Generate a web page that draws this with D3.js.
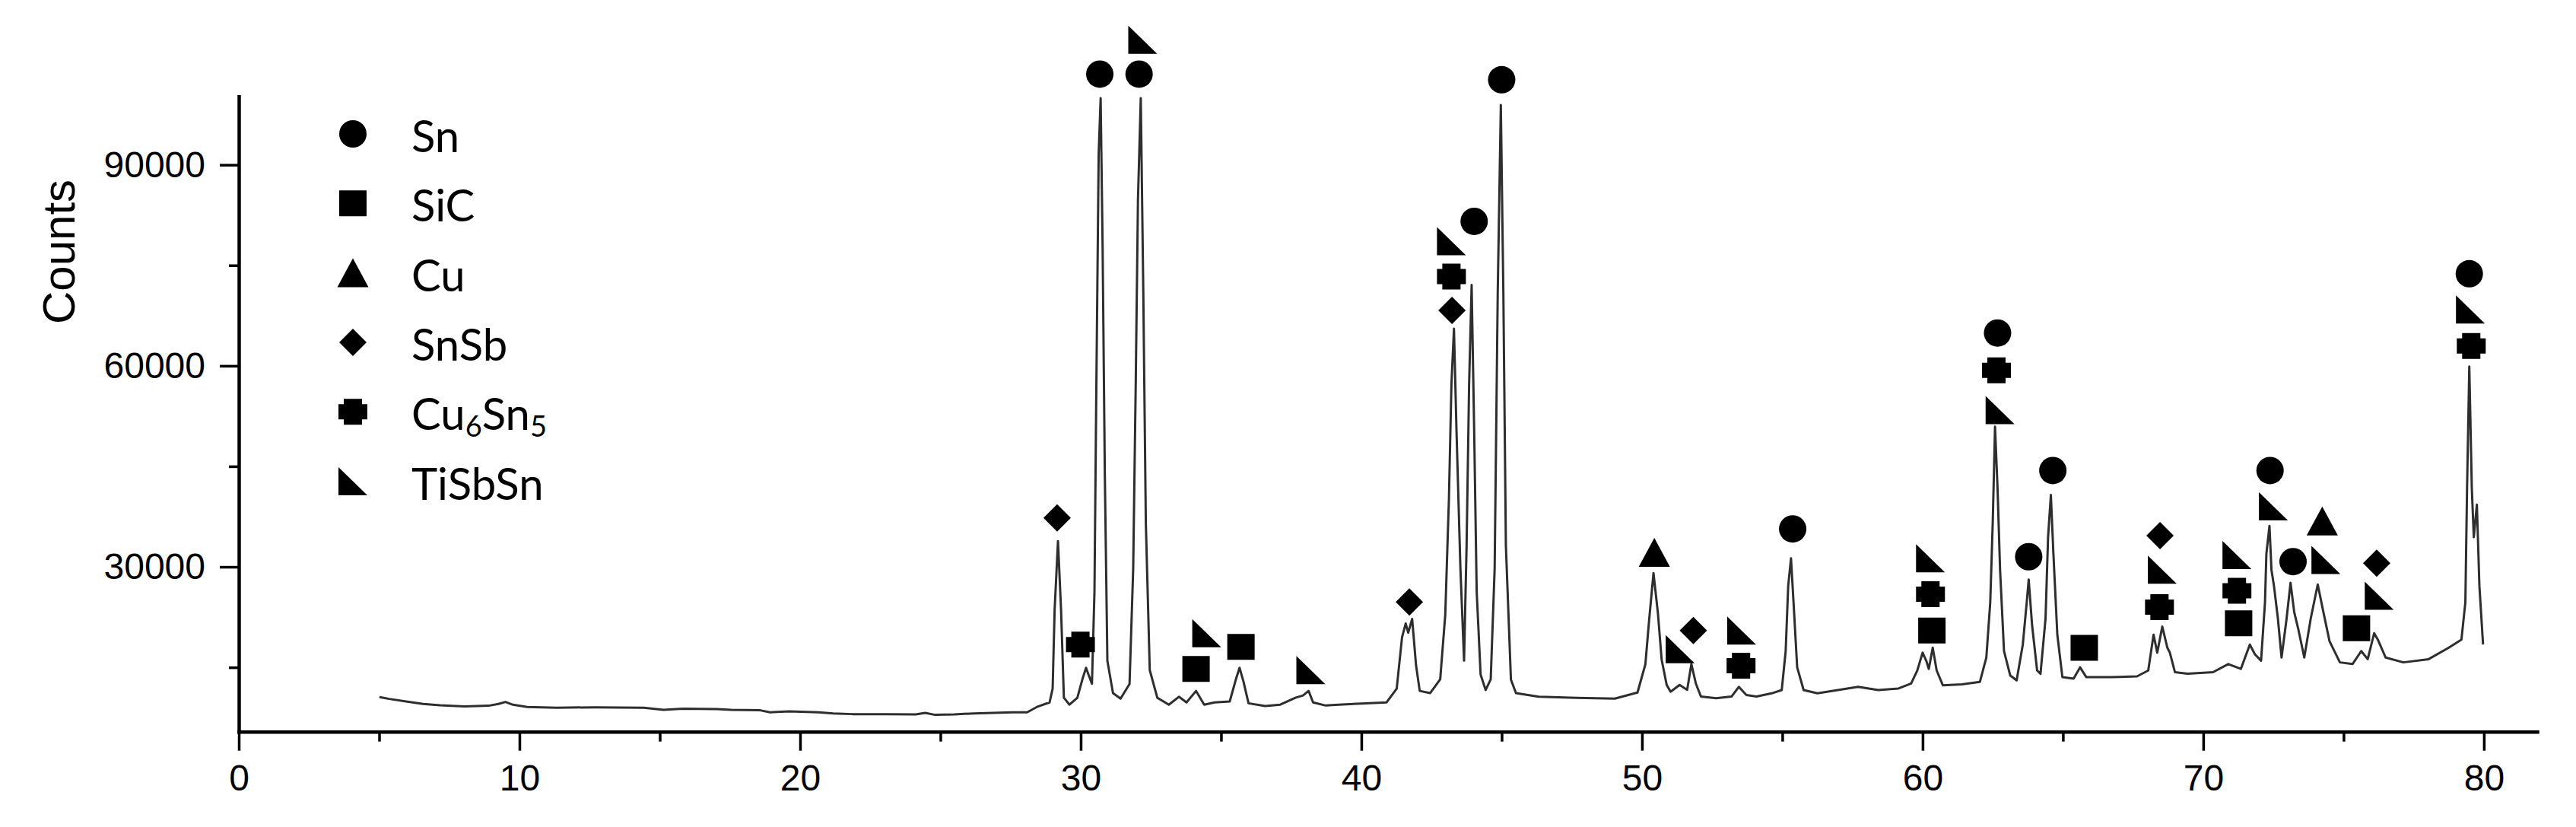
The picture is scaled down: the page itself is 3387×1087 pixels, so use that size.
<!DOCTYPE html>
<html>
<head>
<meta charset="utf-8">
<style>
  body { margin: 0; background: #fff; }
  .tick text { fill: #000; }
</style>
</head>
<body>
<svg id="xrd" width="3387" height="1087"></svg>
<script src="https://d3js.org/d3.v7.min.js"></script>
<script>

// diffraction pattern: [2theta, counts]
var pattern = [
  [5.01,10560],[5.36,10290],[5.96,9915],[6.57,9540],[7.17,9350],[8.04,9160],[8.9,9270],
  [9.25,9540],[9.5,9840],[9.77,9420],[10.28,9080],[11.32,8970],[12.71,9040],[14.43,8970],
  [15.13,8670],[15.82,8820],[17.03,8780],[17.55,8670],[18.58,8590],[18.93,8290],[19.62,8440],
  [20.66,8290],[21.18,8130],[21.87,8020],[23.08,8020],[24.12,7980],[24.46,8210],[24.81,7910],
  [25.5,7980],[26.19,8130],[26.88,8210],[27.57,8290],[28.09,8290],[28.44,9090],[28.89,9770],
  [29.0,11830],[29.07,23540],[29.19,33850],[29.3,23540],[29.4,10460],[29.6,9430],[29.88,10460],
  [30.06,13220],[30.19,14930],[30.28,13890],[30.4,12540],[30.49,26290],[30.55,53840],[30.64,91690],
  [30.71,99960],[30.78,77920],[30.86,43510],[30.95,15970],[31.15,11150],[31.42,10330],[31.74,12530],
  [31.87,29740],[31.96,57270],[32.04,84810],[32.14,99960],[32.23,71040],[32.32,36620],[32.46,14590],
  [32.73,10460],[33.14,9430],[33.5,10610],[33.77,9770],[34.11,11480],[34.4,9430],[34.77,9770],
  [35.31,9910],[35.53,13220],[35.66,14930],[35.8,12880],[35.98,9640],[36.57,9230],[37.11,9430],
  [37.65,10460],[37.92,10800],[38.12,11480],[38.28,9770],[38.73,9300],[39.19,9430],[40.0,9600],
  [40.9,9770],[41.26,11830],[41.45,19490],[41.58,21540],[41.67,20170],[41.81,22230],[41.95,15270],
  [42.08,11480],[42.45,11150],[42.81,13220],[42.99,22850],[43.12,40060],[43.21,57270],[43.3,65540],
  [43.39,50390],[43.53,29740],[43.66,16000],[43.75,33180],[43.84,57270],[43.93,72070],[44.02,50390],
  [44.11,26290],[44.25,13900],[44.43,11620],[44.61,13220],[44.75,29740],[44.86,71040],[44.97,98940],
  [45.06,71040],[45.15,33180],[45.33,13170],[45.51,11150],[46.32,10610],[47.68,10460],[49.03,10330],
  [49.84,11240],[50.12,15440],[50.25,21840],[50.41,29070],[50.57,22980],[50.7,16160],[50.88,12380],
  [51.02,11350],[51.34,12380],[51.61,11640],[51.76,15490],[51.92,12580],[52.1,10640],
  [52.64,10400],[53.19,10640],[53.45,12090],[53.72,10880],[54.08,10640],[54.62,11120],[54.98,11610],
  [55.12,17430],[55.21,27150],[55.31,31270],[55.4,24720],[55.53,15000],[55.76,11610],[56.25,11120],
  [56.98,11610],[57.7,12090],[58.42,11610],[59.14,11850],[59.59,12580],[59.81,14530],[60.0,17190],
  [60.13,15980],[60.22,14760],[60.36,17940],[60.5,14530],[60.72,12330],[61.4,12460],[62.04,12830],
  [62.27,16460],[62.41,24720],[62.5,36850],[62.58,50920],[62.67,41710],[62.76,29560],[62.9,17430],
  [63.12,13800],[63.35,13060],[63.57,18400],[63.71,24720],[63.78,28110],[63.9,21320],[64.08,14530],
  [64.2,14040],[64.38,22280],[64.47,34420],[64.57,40730],[64.66,31990],[64.8,19870],[64.98,13550],
  [65.38,13310],[65.61,15000],[65.83,13550],[66.73,13550],[67.64,13650],[68.04,14530],[68.23,19870],
  [68.36,17190],[68.54,21080],[68.72,17940],[68.81,17190],[68.99,14280],[69.44,14040],[70.35,14280],
  [70.89,15490],[71.34,14770],[71.66,18400],[71.84,16950],[72.06,16000],[72.2,24720],[72.25,31990],
  [72.36,36120],[72.43,29560],[72.52,27150],[72.66,22280],[72.79,16460],[72.97,22280],[73.11,27620],
  [73.24,23260],[73.38,20830],[73.6,16460],[73.83,22280],[74.08,27370],[74.28,23260],[74.5,18890],
  [74.87,15740],[75.32,15490],[75.63,17430],[75.86,16220],[76.09,20100],[76.22,19140],[76.5,16460],
  [77.13,15740],[78.03,16220],[78.75,17940],[79.2,19140],[79.34,24720],[79.4,41710],[79.48,59900],
  [79.57,41710],[79.64,34420],[79.75,39300],[79.84,27150],[79.97,18400]
];

// phase markers: [2theta, counts] of each symbol centre
var snPeaks     = [[30.68,103530],[32.08,103530],[44.02,81560],[45.0,102700],[55.37,35660],[62.67,64900],
                   [63.78,31510],[64.64,44380],[72.38,44380],[73.2,30780],[79.48,73740]];
var sicPeaks    = [[34.11,14760],[35.71,18050],[60.33,20490],[65.76,17920],[71.26,21580],[75.46,20830]];
var cuPeaks     = [[50.44,32150],[74.24,36850]];
var snsbPeaks   = [[29.16,37300],[41.71,24760],[43.23,68270],[51.83,20490],[68.46,34670],[76.18,30540]];
var cu6sn5Peaks = [[29.99,18400],[43.21,73310],[53.53,15250],[60.28,25930],[62.63,59330],[68.44,23990],
                   [71.2,26420],[79.55,62960]];
var tisbsnPeaks = [[32.21,108660],[34.49,20100],[38.2,14590],[43.21,78600],[51.36,17720],[53.55,20490],
                   [60.28,31270],[62.76,53390],[68.54,29570],[71.2,31760],[72.5,39040],[74.37,31030],
                   [76.27,25690],[79.52,68400]];

var legendLabels = ["Sn", "SiC", "Cu", "SnSb", "Cu6Sn5", "TiSbSn"];
var legendShapes = ["circle", "square", "triangle", "diamond", "cross", "corner"];

var xMajor = [0, 10, 20, 30, 40, 50, 60, 70, 80];
var xMinor = [5, 15, 25, 35, 45, 55, 65, 75];
var yMajor = [30000, 60000, 90000];
var yMinor = [15000, 45000, 75000];

var svg = d3.select("#xrd");

var x = d3.scaleLinear().domain([0, 81.9]).range([314, 3336]);
var y = d3.scaleLinear().domain([5400, 100200]).range([961.7, 126.8]);

var tickFont = "'Liberation Sans', Arial, sans-serif";

// shapes drawn around (0,0)
function shapePath(s) {
  if (s == "circle") return "M-18,0a18,18 0 1,0 36,0a18,18 0 1,0 -36,0Z";
  if (s == "square") return "M-18,-17H18V17H-18Z";
  if (s == "triangle") return "M0,-19L20.5,19H-20.5Z";
  if (s == "diamond") return "M0,-18L18,0L0,18L-18,0Z";
  if (s == "cross") return "M-19,-10H-12V-17H12V-10H19V10H12V17H-12V10H-19Z";
  return "M-19,-18.5L19,18.5H-19Z"; // TiSbSn
}

// minor ticks
svg.append("g")
    .attr("transform", "translate(0," + y.range()[0] + ")")
    .call(d3.axisBottom(x).tickValues(xMinor).tickSize(13).tickSizeOuter(0).tickFormat(""))
    .call(function(g) { g.select(".domain").remove(); })
    .selectAll("line").attr("stroke-width", 3.5);

svg.append("g")
    .attr("transform", "translate(" + x.range()[0] + ",0)")
    .call(d3.axisLeft(y).tickValues(yMinor).tickSize(13).tickSizeOuter(0).tickFormat(""))
    .call(function(g) { g.select(".domain").remove(); })
    .selectAll("line").attr("stroke-width", 3.5);

// major ticks + axis lines
var xAxis = svg.append("g")
    .attr("transform", "translate(0," + y.range()[0] + ")")
    .call(d3.axisBottom(x).tickValues(xMajor).tickSize(25).tickSizeOuter(0).tickPadding(18).tickFormat(d3.format("d")));
xAxis.selectAll("line").attr("stroke-width", 3.5);
xAxis.select(".domain").attr("stroke-width", 4.5).attr("stroke-linecap", "square");
xAxis.selectAll("text").attr("font-family", tickFont).attr("font-size", 48);

var yAxis = svg.append("g")
    .attr("transform", "translate(" + x.range()[0] + ",0)")
    .call(d3.axisLeft(y).tickValues(yMajor).tickSize(25).tickSizeOuter(0).tickPadding(19).tickFormat(d3.format("d")));
yAxis.selectAll("line").attr("stroke-width", 3.5);
yAxis.select(".domain").attr("stroke-width", 4.5).attr("stroke-linecap", "square");
yAxis.selectAll("text").attr("font-family", tickFont).attr("font-size", 48);

svg.append("text")
    .attr("transform", "translate(98,331) rotate(-90)")
    .attr("text-anchor", "middle")
    .attr("font-family", tickFont)
    .attr("font-size", 60)
    .text("Counts");

// the pattern
var line = d3.line()
    .x(function(d) { return x(d[0]); })
    .y(function(d) { return y(d[1]); });

svg.append("path")
    .datum(pattern)
    .attr("fill", "none")
    .attr("stroke", "#2e2e2e")
    .attr("stroke-width", 3)
    .attr("stroke-linejoin", "round")
    .attr("d", line);

// phase markers
var phases = [
  {shape: "circle", peaks: snPeaks},
  {shape: "square", peaks: sicPeaks},
  {shape: "triangle", peaks: cuPeaks},
  {shape: "diamond", peaks: snsbPeaks},
  {shape: "cross", peaks: cu6sn5Peaks},
  {shape: "corner", peaks: tisbsnPeaks}
];

phases.forEach(function(p) {
  svg.append("g").selectAll("path")
      .data(p.peaks)
    .enter().append("path")
      .attr("transform", function(d) { return "translate(" + x(d[0]) + "," + y(d[1]) + ")"; })
      .attr("d", shapePath(p.shape))
      .attr("fill", "#000");
});

// legend
var legend = svg.append("g").attr("transform", "translate(464,176)");
var rows = legend.selectAll("g")
    .data(legendLabels)
  .enter().append("g")
    .attr("transform", function(d, i) { return "translate(0," + (i * 91.3) + ")"; });

rows.append("path")
    .attr("d", function(d, i) { return shapePath(legendShapes[i]); })
    .attr("fill", "#000");

rows.append("text")
    .attr("x", 77)
    .attr("y", 24)
    .attr("font-family", "Lato, 'Open Sans', sans-serif")
    .attr("font-size", 58)
    .each(function(d) {
      var t = d3.select(this), sub = false;
      d.split("").forEach(function(c) {
        var isDigit = /[0-9]/.test(c);
        var ts = t.append("tspan").text(c);
        if (isDigit && !sub) { ts.attr("font-size", 38).attr("dy", 9); sub = true; }
        else if (!isDigit && sub) { ts.attr("dy", -9); sub = false; }
        else if (isDigit) ts.attr("font-size", 38);
      });
    });

</script>
</body>
</html>
